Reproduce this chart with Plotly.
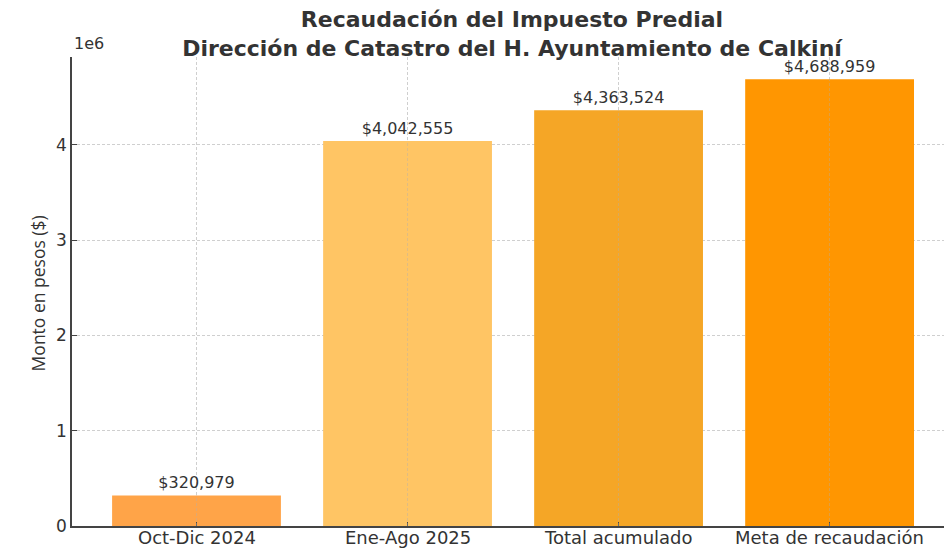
import plotly.graph_objects as go

categories = ["Oct-Dic 2024", "Ene-Ago 2025", "Total acumulado", "Meta de recaudación"]
values = [320979, 4042555, 4363524, 4688959]
bar_colors = ["#FFA448", "#FFC564", "#F5A626", "#FF9601"]
y_tick_vals = [0, 1e6, 2e6, 3e6, 4e6]
y_tick_text = ["0", "1", "2", "3", "4"]
labels = [f"${v:,.0f}" for v in values]

font_family = "DejaVu Sans"
txt_color = "#333333"
grid_color = "#cfcfcf"

fig = go.Figure()
fig.add_trace(go.Bar(
    x=list(range(len(categories))),
    y=values,
    width=0.8,
    marker=dict(color=bar_colors, line=dict(width=0)),
    text=labels,
    textposition="outside",
    textfont=dict(family=font_family, size=16, color=txt_color),
    cliponaxis=False,
    hoverinfo="skip",
))

# faint vertical grid lines drawn over bars (as in reference)
shapes = []
for i in range(len(categories)):
    shapes.append(dict(type="line", xref="x", yref="y", x0=i, x1=i, y0=0, y1=values[i],
                       line=dict(color="#b0b0b0", width=0.8, dash="3px,2px"),
                       opacity=0.5, layer="above"))

# category labels placed as annotations so they sit a bit closer to the axis
annotations = []
for i, cat in enumerate(categories):
    annotations.append(dict(text=cat, xref="x", yref="paper", x=i, y=0,
                            xanchor="center", yanchor="middle", yshift=-11, showarrow=False,
                            font=dict(family=font_family, size=18, color=txt_color)))

annotations += [
    dict(text="1e6", xref="paper", yref="paper", x=0, y=1.0,
         xanchor="left", yanchor="bottom", yshift=2, showarrow=False,
         font=dict(family=font_family, size=16, color=txt_color)),
    dict(text="Monto en pesos ($)", xref="paper", yref="paper", x=0, y=0.496,
         xanchor="center", yanchor="middle", xshift=-34, textangle=-90, showarrow=False,
         font=dict(family="Open Sans", size=17.5, color=txt_color)),
]

# The page body has an 8px margin; size the figure so it fills the 952x549 window.
fig.update_layout(
    width=944, height=541,
    margin=dict(l=64, r=0, t=49, b=23),
    paper_bgcolor="white", plot_bgcolor="white",
    showlegend=False,
    bargap=0.2,
    font=dict(family=font_family, color=txt_color),
    title=dict(
        text="<b>Recaudación del Impuesto Predial<br>Dirección de Catastro del H. Ayuntamiento de Calkiní</b>",
        x=0.5, xanchor="center", xref="paper",
        yref="container", y=1 - 19 / 541, yanchor="middle",
        font=dict(family=font_family, size=22, color=txt_color),
    ),
    xaxis=dict(
        range=[-0.59, 3.58],
        tickvals=list(range(len(categories))),
        showticklabels=False,
        showgrid=True, gridcolor=grid_color, griddash="3px,2px", gridwidth=0.8,
        showline=True, linecolor="#444444", linewidth=1.5,
        ticks="inside", ticklen=4, tickcolor="#444444",
        zeroline=False, automargin=False, fixedrange=True,
    ),
    yaxis=dict(
        range=[0, 4.923e6],
        tickvals=y_tick_vals,
        ticktext=y_tick_text,
        tickfont=dict(family=font_family, size=17, color=txt_color),
        showgrid=True, gridcolor=grid_color, griddash="3px,2px", gridwidth=0.8,
        showline=True, linecolor="#444444", linewidth=1.5,
        ticks="inside", ticklen=5, tickcolor="#444444",
        zeroline=False, automargin=False,
    ),
    shapes=shapes,
    annotations=annotations,
)

fig.write_html("out.html")
